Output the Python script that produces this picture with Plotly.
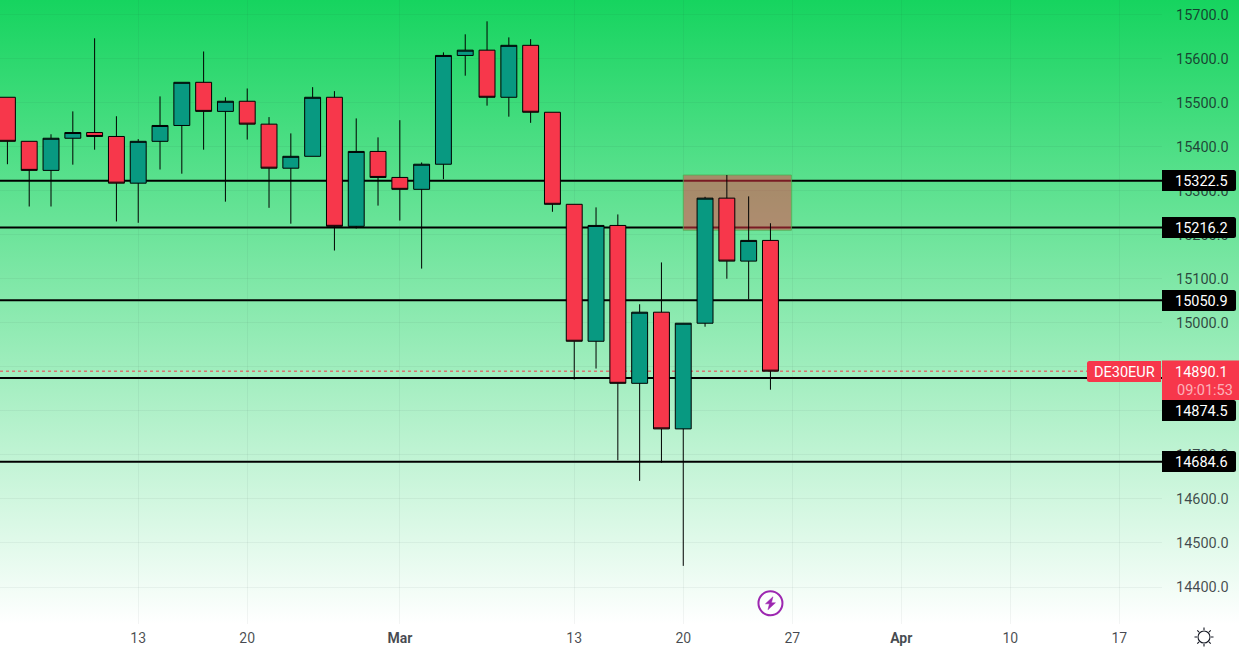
import math
from urllib.parse import quote

import plotly.graph_objects as go

# Daily DE30EUR candles, 3 Feb to 24 Mar, one entry per trading day.
sessions = list(range(36))
open_px = [15512, 15412, 15346, 15419, 15432, 15423, 15317, 15412, 15448, 15546,
           15480, 15503, 15451, 15351, 15378, 15512, 15219, 15389, 15330, 15303,
           15360, 15607, 15619, 15512, 15630, 15478, 15269, 14958, 15221, 14862.5,
           15024, 14759, 14999, 15283, 15140, 15187]
close_px = [15412, 15346, 15419, 15432, 15423, 15317, 15412, 15448, 15546, 15480,
            15503, 15451, 15351, 15378, 15512, 15219, 15389, 15330, 15303, 15360,
            15607, 15619, 15512, 15630, 15478, 15269, 14958, 15221, 14862.5, 15024,
            14759, 14999, 15283, 15140, 15187, 14890.1]
high_px = [15512, 15412, 15428, 15480, 15646, 15469, 15417, 15514, 15546, 15616,
           15512, 15532, 15467, 15430, 15535, 15526, 15464, 15421, 15460, 15364,
           15614, 15655, 15684.5, 15648, 15644, 15478, 15269, 15262, 15246, 15042,
           15137, 14999, 15286, 15335.5, 15287, 15226]
low_px = [15360, 15264, 15264, 15359, 15393, 15230, 15227, 15348, 15338.5, 15393,
          15275, 15416, 15261, 15225, 15378, 15164, 15214, 15266, 15232, 15123,
          15326, 15561, 15493, 15468, 15454, 15252, 14871, 14896, 14688, 14641,
          14682, 14448, 14991, 15100, 15053, 14848]

# Horizontal support and resistance levels with their axis tags.
level_prices = [15322.5, 15216.2, 15050.9, 14874.5, 14684.6]
level_labels = ["15322.5", "15216.2", "15050.9", "14874.5", "14684.6"]
level_tag_rows = [180.5, 227.5, 300.5, 410.5, 461.5]

last_price = 14890.1
symbol = "DE30EUR"
countdown = "09:01:53"

zone_top, zone_bottom = 15335.5, 15210
zone_start, zone_end = 31, 35.96

price_ticks = [14400 + 100 * n for n in range(14)]
date_ticks = [6, 11, 18, 26, 31, 36, 41, 46, 51]
date_labels = ["13", "20", "<b>Mar</b>", "13", "20", "27", "<b>Apr</b>", "10", "17"]

WIDTH, HEIGHT = 1239, 655
PLOT_W, PLOT_H = 1162, 624
UP, DOWN = "#089981", "#F7374B"
FONT = "Roboto"
INK = "rgba(19,23,34,0.78)"
GRID = "rgba(42,46,57,0.055)"
TEXT_NUDGE = 0.9


def paper_y(row):
    """Paper coordinate of a pixel row counted from the top of the page."""
    return 1 - row / PLOT_H


def paper_x(col):
    return col / PLOT_W


def pixel_shape(col, row, **kw):
    """A shape sized in pixels and anchored to a page position."""
    return dict(xref="paper", yref="paper", xsizemode="pixel", ysizemode="pixel",
                xanchor=paper_x(col), yanchor=paper_y(row), layer="above", **kw)


def tag_path(w, up, down, r=2.5):
    """Box running right from the anchor with rounded right corners."""
    return (f"M0,{up} H{w - r} Q{w},{up} {w},{up - r} V{down + r} "
            f"Q{w},{down} {w - r},{down} H0 Z")


fig = go.Figure(go.Candlestick(
    x=sessions, open=open_px, high=high_px, low=low_px, close=close_px,
    whiskerwidth=0,
    increasing=dict(line=dict(color="#000000", width=1), fillcolor=UP),
    decreasing=dict(line=dict(color="#000000", width=1), fillcolor=DOWN),
    showlegend=False,
))

shapes = []
for price in level_prices:
    shapes.append(dict(type="line", xref="paper", x0=0, x1=1, yref="y", y0=price, y1=price,
                       line=dict(color="#000000", width=2), layer="between"))
shapes.append(dict(type="line", xref="paper", x0=0, x1=1, yref="y", y0=last_price, y1=last_price,
                   line=dict(color=DOWN, width=1, dash="dot"), layer="between"))
shapes.append(dict(type="rect", x0=zone_start, x1=zone_end, y0=zone_bottom, y1=zone_top,
                   xref="x", yref="y", fillcolor="rgba(242,54,69,0.5)",
                   line=dict(color="rgba(76,175,80,0.75)", width=1), layer="between"))

annotations = []


def add_text(col, row, text, color="#FFFFFF", anchor="right", size=14.5):
    annotations.append(dict(xref="paper", yref="paper", x=paper_x(col), y=paper_y(row + TEXT_NUDGE),
                            xanchor=anchor, yanchor="middle", text=text, showarrow=False,
                            font=dict(family=FONT, size=size, color=color)))


# Black price tags on the axis.
for label, row in zip(level_labels, level_tag_rows):
    shapes.append(pixel_shape(1162, row, type="path", fillcolor="#000000", line=dict(width=0),
                              path=tag_path(74, 10.5, -10.5)))
    add_text(1230, row, label)

# Last price tag, symbol tag and countdown.
shapes.append(pixel_shape(1162, 360.5, type="rect", x0=0, x1=77, y0=0, y1=-39.5,
                          fillcolor=DOWN, line=dict(width=0)))
shapes.append(pixel_shape(1161, 371.5, type="path", fillcolor=DOWN, line=dict(width=0),
                          path="M0,10.5 H-71.5 Q-74,10.5 -74,8 V-8 Q-74,-10.5 -71.5,-10.5 H0 Z"))
add_text(1230, 371.5, f"{last_price:.1f}")
add_text(1235, 389.5, countdown, color="rgba(255,255,255,0.62)")
add_text(1124, 371.5, symbol, anchor="center")

# Event badge under the last candle.
BADGE = "#9C27B0"
shapes.append(dict(type="circle", xref="x", yref="paper", xsizemode="pixel", ysizemode="pixel",
                   xanchor=35, yanchor=paper_y(603.3), x0=-12, x1=12, y0=-12, y1=12,
                   fillcolor="rgba(255,255,255,0.6)", line=dict(color=BADGE, width=2), layer="above"))
shapes.append(dict(type="path", xref="x", yref="paper", xsizemode="pixel", ysizemode="pixel",
                   xanchor=35, yanchor=paper_y(603.3),
                   path="M2.5,6.5 L-5,-0.5 L-1,-0.5 L-2.5,-6.5 L5,0.5 L1,0.5 Z",
                   fillcolor=BADGE, line=dict(color=BADGE, width=0.5), layer="above"))

# Settings sun in the bottom right corner.
SUN = "#131722"
shapes.append(pixel_shape(1204, 637, type="circle", x0=-6, x1=6, y0=-6, y1=6,
                          fillcolor="rgba(0,0,0,0)", line=dict(color=SUN, width=1.1)))
rays = ""
for k in range(8):
    a = k * math.pi / 4
    rays += (f"M{7 * math.cos(a):.2f},{7 * math.sin(a):.2f} "
             f"L{9.5 * math.cos(a):.2f},{9.5 * math.sin(a):.2f} ")
shapes.append(pixel_shape(1204, 637, type="path", path=rays, line=dict(color=SUN, width=1.1)))

# Page backdrop fading from green to white down to the date strip.
backdrop = ('<svg xmlns="http://www.w3.org/2000/svg" width="10" height="10" preserveAspectRatio="none">'
            '<defs><linearGradient id="g" x1="0" y1="0" x2="0" y2="1">'
            '<stop offset="0" stop-color="#16D45F"/><stop offset="1" stop-color="#FFFFFF"/>'
            '</linearGradient></defs><rect width="10" height="10" fill="url(#g)"/></svg>')

fig.update_layout(
    width=WIDTH, height=HEIGHT,
    margin=dict(l=0, r=WIDTH - PLOT_W, t=0, b=HEIGHT - PLOT_H, autoexpand=False),
    paper_bgcolor="#FFFFFF", plot_bgcolor="rgba(0,0,0,0)",
    font=dict(family=FONT, size=14, color=INK),
    shapes=shapes, annotations=annotations,
    boxgap=0.27, boxgroupgap=0,
    images=[dict(source="data:image/svg+xml," + quote(backdrop), xref="paper", yref="paper",
                 x=0, y=1, sizex=WIDTH / PLOT_W, sizey=1, xanchor="left", yanchor="top",
                 sizing="stretch", layer="below")],
    xaxis=dict(range=[-0.34, 52.96], tickmode="array", tickvals=date_ticks, ticktext=date_labels,
               rangeslider=dict(visible=False), showgrid=True, gridcolor=GRID, gridwidth=1,
               zeroline=False, showline=False, ticks="", ticklabelstandoff=4,
               tickfont=dict(family=FONT, size=14, color=INK)),
    yaxis=dict(side="right", range=[14316, 15732.9], tickmode="array", tickvals=price_ticks,
               ticktext=[f"{p:.1f}" for p in price_ticks], showgrid=True, gridcolor=GRID, gridwidth=1,
               zeroline=False, showline=False, ticks="", ticklabelstandoff=13,
               tickfont=dict(family=FONT, size=14.5, color=INK)),
    hovermode=False,
)

fig.write_html("out.html", config=dict(displayModeBar=False))
